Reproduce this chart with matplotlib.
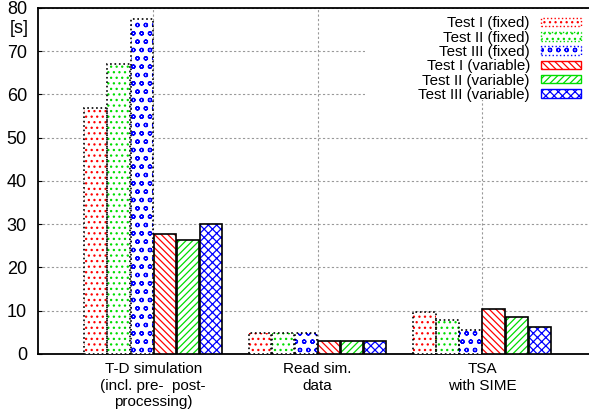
import matplotlib

matplotlib.use("Agg")
import matplotlib.pyplot as plt
import numpy as np
from matplotlib.patches import Patch, Rectangle

plt.rcParams["font.family"] = ["Liberation Sans", "DejaVu Sans"]
plt.rcParams["hatch.linewidth"] = 0.9

categories = ["T-D simulation\n(incl. pre-  post-\nprocessing)", "Read sim.\ndata", "TSA\nwith SIME"]
series_labels = ["Test I (fixed)", "Test II (fixed)", "Test III (fixed)",
                 "Test I (variable)", "Test II (variable)", "Test III (variable)"]
fixed_1 = [56.9, 4.9, 9.6]
fixed_2 = [67.1, 4.9, 7.9]
fixed_3 = [77.4, 4.9, 5.5]
var_1 = [27.7, 3.0, 10.3]
var_2 = [26.3, 3.0, 8.5]
var_3 = [30.1, 3.0, 6.2]
yticks = [0, 10, 20, 30, 40, 50, 60, 70, 80]

series = [fixed_1, fixed_2, fixed_3, var_1, var_2, var_3]
colors = ["#ff0000", "#00dd00", "#0000ff", "#ff0000", "#00dd00", "#0000ff"]
hatches = ["...", "...", "oo", "\\\\\\\\\\", "/////", "xxxx"]
border_styles = [":", ":", ":", "-", "-", "-"]

fig = plt.figure(figsize=(5.89, 4.12), dpi=100)
ax = fig.add_axes([0.0645, 0.1408, 0.9355, 0.8398])

x = np.arange(len(categories))
step = 0.14
width = 0.135
for i, vals in enumerate(series):
    pos = x + (i - 2.5) * step
    # coloured hatch first, black border on top
    ax.bar(pos, vals, width, color="white", edgecolor=colors[i], hatch=hatches[i],
           linewidth=0, zorder=3)
    ax.bar(pos, vals, width, fill=False, edgecolor="black", linestyle=border_styles[i],
           linewidth=1.2, zorder=4)

ax.set_xlim(-0.70, 2.65)
ax.set_ylim(0, 80)
ax.set_yticks(yticks)
ax.set_xticks(x)
ax.set_xticklabels(categories, fontsize=11)
ax.tick_params(axis="y", direction="in", labelsize=13, length=3, pad=8)
ax.tick_params(axis="x", length=0, pad=6)
ax.grid(True, color="#999999", linestyle=(0, (2, 2)), linewidth=0.8, zorder=0)
ax.set_axisbelow(True)
ax.spines["right"].set_visible(False)
for s in ["left", "top", "bottom"]:
    ax.spines[s].set_linewidth(1.3)

ax.text(-0.016, 0.942, "[s]", transform=ax.transAxes, ha="right", va="center", fontsize=13)

# white key box that hides the grid behind the legend (gnuplot style)
ax.add_patch(Rectangle((0.593, 0.735), 0.407, 0.262, transform=ax.transAxes,
                       facecolor="white", edgecolor="none", zorder=2))

handles = [Patch(facecolor="white", edgecolor=colors[i], hatch=hatches[i], linewidth=0)
           for i in range(6)]
leg = ax.legend(handles, series_labels, loc="upper right", markerfirst=False,
                fontsize=10.9, frameon=False,
                handlelength=2.6, handleheight=0.5, labelspacing=0.02,
                borderaxespad=0.45, handletextpad=0.75, borderpad=0.1)
for h, st in zip(leg.legend_handles, border_styles):
    h.set_linewidth(1.0)
    h.set_linestyle(st)
leg.set_zorder(5)

fig.savefig("out.png", dpi=100)
